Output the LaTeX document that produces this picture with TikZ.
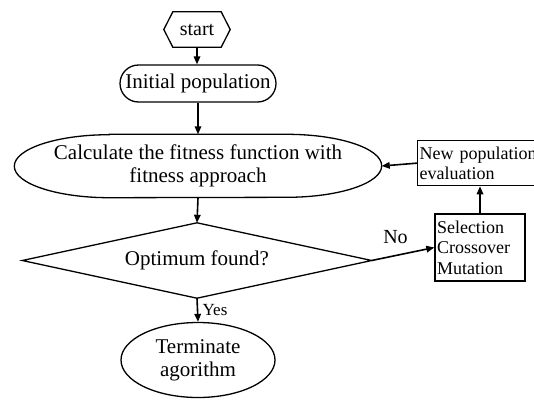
\documentclass[tikz,border=0pt]{standalone}
\usepackage{fontspec}
\setmainfont{Liberation Serif}
\usetikzlibrary{arrows.meta,calc,shapes.geometric}
\begin{document}
\begin{tikzpicture}[x=1pt,y=-1pt,
  shapeline/.style={line width=1.3pt},
  conn/.style={line width=1.6pt,-{Triangle[length=8pt,width=6.5pt]}},
  bigtext/.style={font=\fontsize{21}{23}\selectfont},
  smalltext/.style={font=\fontsize{18}{20.5}\selectfont},
  plainbox/.style={inner sep=0pt,align=center}]
\path[use as bounding box,clip] (0,0) rectangle (534,399);
% start hexagon
\node[plainbox,minimum width=66pt,minimum height=35pt,font=\fontsize{20}{22}\selectfont] (s) at (197,29.5) {start};
\draw[shapeline] (s.west) -- ($(s.north west)+(9,0)$) -- ($(s.north east)+(-9,0)$) -- (s.east)
  -- ($(s.south east)+(-9,0)$) -- ($(s.south west)+(9,0)$) -- cycle;
% initial population
\node[plainbox,bigtext,draw,shapeline,rounded corners=18.5pt,minimum width=156pt,minimum height=37pt] (init) at (198,83.5) {Initial population};
% calculate
\node[plainbox,bigtext,minimum width=367pt,minimum height=63pt] (calc) at (198,166) {Calculate the fitness function with\\fitness approach};
\draw[shapeline] ($(calc.north west)+(95,0)$) -- ($(calc.north east)+(-95,0)$)
  arc[start angle=90,end angle=-90,x radius=95pt,y radius=31.5pt]
  -- ($(calc.south west)+(95,0)$)
  arc[start angle=270,end angle=90,x radius=95pt,y radius=31.5pt] -- cycle;
% diamond
\node[plainbox,bigtext,minimum width=349pt,minimum height=75pt] (d) at (197,260.5) {Optimum found?};
\draw[shapeline] (d.north) -- (d.east) -- (d.south) -- (d.west) -- cycle;
% terminate
\node[ellipse,draw,shapeline,bigtext,align=center,inner sep=0pt,minimum width=154pt,minimum height=75pt] (t) at (198,360) {Terminate\\agorithm};
% selection box
\node[draw,shapeline,smalltext,align=left,inner sep=2pt,text width=86pt,minimum height=67pt] (sel) at (480,247.5) {Selection\\Crossover\\Mutation};
% new population box
\node[draw,shapeline,smalltext,align=left,inner sep=2pt,text width=130pt,minimum height=45pt,anchor=north west] (np) at (417,140) {New population\\evaluation};
% connectors
\draw[conn] (s.south) -- (s.south |- init.north);
\draw[conn] (init.south) -- (calc.north);
\draw[conn] (calc.south) -- (d.north);
\draw[conn] (d.south) -- (t.north) node[pos=0.5,right=1pt,font=\fontsize{17}{19}\selectfont] (yes) {Yes};
\draw[conn] (d.east) -- (sel.west) node[pos=0.38,above=8pt,font=\fontsize{20}{22}\selectfont] (no) {No};
\draw[conn] (sel.north) -- (sel.north |- np.south);
\draw[conn] (np.west) -- (calc.east);
\end{tikzpicture}
\end{document}
